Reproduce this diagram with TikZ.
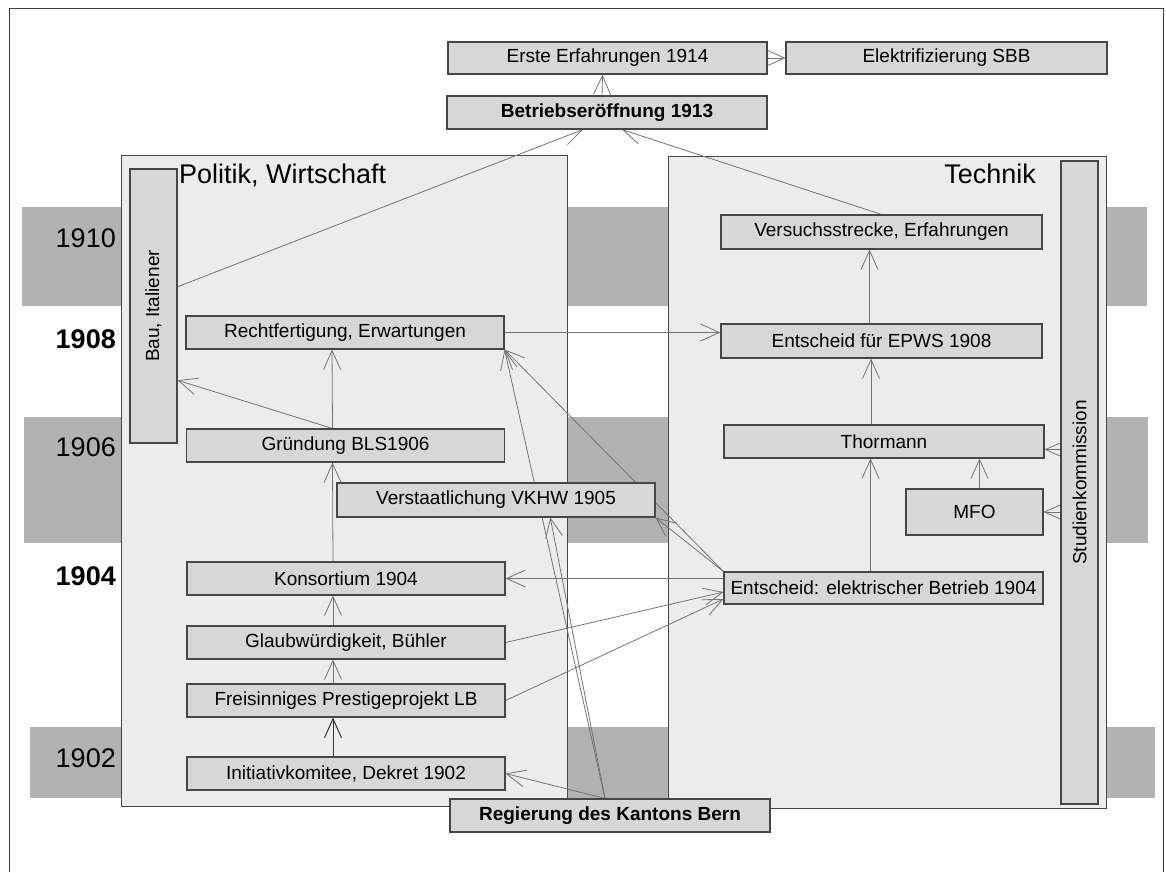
\documentclass[tikz,border=0pt]{standalone}
\usepackage{fontspec}
\setmainfont{Liberation Sans}
\usepackage{graphicx}
\usetikzlibrary{positioning,arrows.meta,calc}

\definecolor{bandgray}{RGB}{178,178,178}
\definecolor{panelgray}{RGB}{236,236,236}
\definecolor{boxgray}{RGB}{215,215,215}
\definecolor{boxline}{RGB}{70,70,70}
\definecolor{linegray}{RGB}{115,115,115}
\definecolor{framegray}{RGB}{60,60,60}

\pgfdeclarelayer{bg}
\pgfdeclarelayer{edges}
\pgfsetlayers{bg,edges,main}

\begin{document}
\begin{tikzpicture}[x=1pt, y=-1pt,
    box/.style={draw=boxline, fill=boxgray, line width=1.1pt, inner sep=2pt,
                minimum height=33pt, minimum width=318pt,
                font=\fontsize{19}{22}\selectfont},
    boldbox/.style={box, font=\fontsize{19}{22}\selectfont\bfseries},
    year/.style={anchor=east, inner sep=0pt, font=\fontsize{27}{30}\selectfont},
    yearbold/.style={year, font=\fontsize{27}{30}\selectfont\bfseries},
    paneltitle/.style={inner sep=0pt, font=\fontsize{27}{30}\selectfont},
    conn/.style={draw=linegray, line width=0.8pt,
                 -{Straight Barb[length=19pt,width=17pt]}}]
  \useasboundingbox (0,0) rectangle (1166,872);

  % frame, year bands and the two panels
  \begin{pgfonlayer}{bg}
    \draw[framegray, line width=1pt] (9,872) -- (9,9) -- (1163,9) -- (1163,872);
    \fill[bandgray] (22,207) rectangle (1147,306);
    \fill[bandgray] (24,417) rectangle (1148,543);
    \fill[bandgray] (30,727) rectangle (1155,798);
    \draw[boxline, fill=panelgray, line width=0.9pt] (121,155) rectangle (567,806);
    \draw[boxline, fill=panelgray, line width=0.9pt] (668,156) rectangle (1106,808);
  \end{pgfonlayer}

  \node[paneltitle, anchor=west] (politik) at (179,175) {Politik, Wirtschaft};
  \node[paneltitle, anchor=east] (technik) at (1036,174) {Technik};

  \node[year] (y1910) at (116,238) {1910};
  \node[yearbold] (y1908) at (116,339) {1908};
  \node[year] (y1906) at (116,447) {1906};
  \node[yearbold] (y1904) at (116,576) {1904};
  \node[year] (y1902) at (116,758) {1902};

  % top
  \node[box, minimum width=319pt, minimum height=32pt] (erste) at (607.5,58) {Erste Erfahrungen 1914};
  \node[box, minimum width=321pt, minimum height=32pt] (elek) at (946.5,58) {Elektrifizierung SBB};
  \node[boldbox, minimum width=320pt] (betrieb) at (607,112.5) {Betriebseröffnung 1913};

  % Politik, Wirtschaft
  \node[box, minimum width=47pt, minimum height=274pt] (bau) at (153.5,306) {\rotatebox{90}{Bau, Italiener}};
  \node[box] (recht) at (345,332.5) {Rechtfertigung, Erwartungen};
  \node[box] (grund) at (345.5,445.5) {Gründung BLS1906};
  \node[box, minimum height=34pt] (verst) at (496,500) {Verstaatlichung VKHW 1905};
  \node[box] (kons) at (346,578.5) {Konsortium 1904};
  \node[box] (glaub) at (346,642.5) {Glaubwürdigkeit, Bühler};
  \node[box] (freis) at (346,700.5) {Freisinniges Prestigeprojekt LB};
  \node[box] (init) at (346,773.5) {Initiativkomitee, Dekret 1902};
  \node[boldbox, minimum width=320pt] (reg) at (610,815.5) {Regierung des Kantons Bern};

  % Technik
  \node[box, minimum width=321pt, minimum height=34pt] (versuch) at (881.5,232) {Versuchsstrecke, Erfahrungen};
  \node[box, minimum width=321pt, minimum height=34pt] (epws) at (881.5,341) {Entscheid für EPWS 1908};
  \node[box, minimum width=320pt] (thorm) at (884,441.5) {Thormann};
  \node[box, minimum width=137pt, minimum height=46pt] (mfo) at (974.5,512) {MFO};
  \node[box, minimum width=319pt, minimum height=32pt] (ent04) at (883.5,588) {Entscheid: elektrischer Betrieb 1904};
  \node[box, minimum width=37pt, minimum height=643pt] (studien) at (1079.5,482.5) {\rotatebox{90}{Studienkommission}};

  \begin{pgfonlayer}{edges}
    \draw[conn] ([xshift=-5pt]betrieb.north) -- ([xshift=-5pt]erste.south);
    \draw[conn] (erste.east) -- (elek.west);
    \draw[conn] ($(bau.south east)!0.57!(bau.north east)$) -- ([xshift=-24pt]betrieb.south);
    \draw[conn] (versuch.north) -- ([xshift=15pt]betrieb.south);
    \draw[conn] ([xshift=-13pt]grund.north) -- ($(bau.south east)!0.23!(bau.north east)$);
    \draw[conn] ([xshift=-13pt]grund.north) -- ([xshift=-13pt]recht.south);
    \draw[conn] ([xshift=-13pt]kons.north) -- ([xshift=-13pt]grund.south);
    \draw[conn] ([xshift=-13pt]glaub.north) -- ([xshift=-13pt]kons.south);
    \draw[conn] ([xshift=-13pt]freis.north) -- ([xshift=-13pt]glaub.south);
    \draw[conn, draw=black!80, line width=1pt] ([xshift=-13pt]init.north) -- ([xshift=-13pt]freis.south);
    \draw[conn] (recht.east) -- (recht.east -| epws.west);
    \draw[conn] ([xshift=-5pt]reg.north) -- (init.east);
    \draw[conn] ([xshift=-5pt]reg.north) -- ($(verst.south west)!0.67!(verst.south east)$);
    \draw[conn] ([xshift=-5pt]reg.north) -- (recht.south east);
    \draw[conn] (ent04.north west) -- (recht.south east);
    \draw[conn] (ent04.north west) -- (verst.south east);
    \draw[conn] (kons.east -| ent04.west) -- (kons.east);
    \draw[conn] (glaub.east) -- ([yshift=-4pt]ent04.west);
    \draw[conn] (freis.east) -- ([yshift=-11pt]ent04.west);
    \draw[conn] ([xshift=-13pt]ent04.north) -- ([xshift=-13pt]ent04.north |- thorm.south);
    \draw[conn] ([xshift=-13pt]thorm.north) -- ([xshift=-13pt]thorm.north |- epws.south);
    \draw[conn] ([xshift=-12pt]epws.north) -- ([xshift=-12pt]versuch.south);
    \draw[conn] ([xshift=5pt]mfo.north) -- ([xshift=5pt]mfo.north |- thorm.south);
    \draw[conn] ([yshift=-8pt]thorm.east -| studien.west) -- ([yshift=-8pt]thorm.east);
    \draw[conn] (mfo.east -| studien.west) -- (mfo.east);
  \end{pgfonlayer}
\end{tikzpicture}
\end{document}
